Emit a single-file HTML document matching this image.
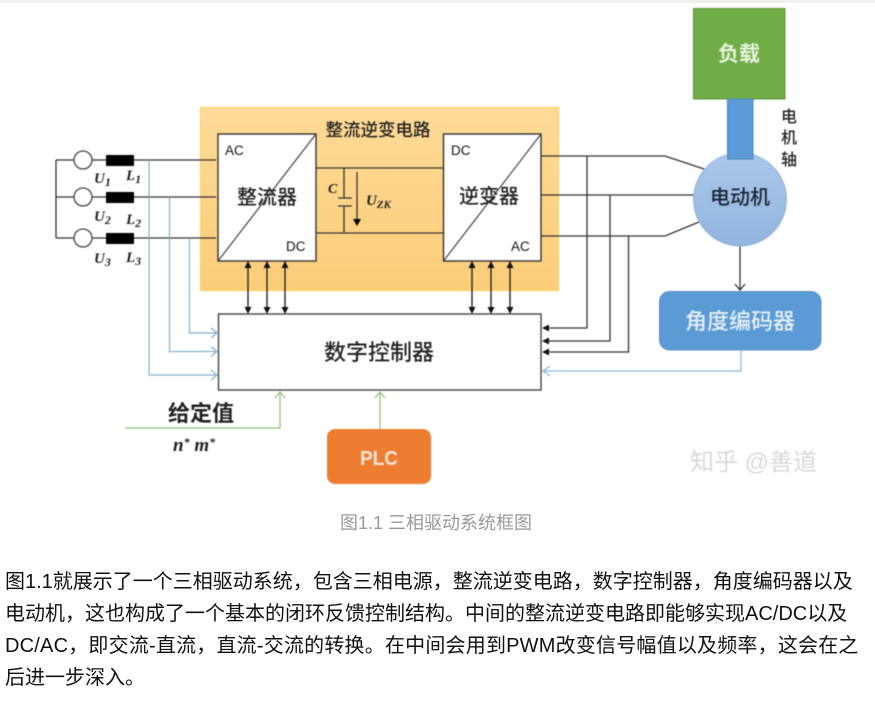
<!DOCTYPE html>
<html><head><meta charset="utf-8">
<style>
html,body{margin:0;padding:0;background:#fff;width:875px;height:721px;overflow:hidden}
body{position:relative;font-family:"Liberation Sans","Noto Sans CJK SC",sans-serif}
.bar{position:absolute;left:0;top:0;width:875px;height:3px;background:#f0f0f0}
svg{position:absolute;left:0;top:0}
.l{position:absolute;left:5px;font-size:20px;line-height:32px;color:#111;white-space:nowrap}
.cap{position:absolute;left:340px;top:511px;font-size:18px;line-height:24px;color:#999;white-space:nowrap}
</style></head><body>
<div class="bar"></div>
<svg width="875" height="510" viewBox="0 0 875 510" font-family="'Liberation Sans','Noto Sans CJK SC',sans-serif">
<defs>
<linearGradient id="o" x1="0" y1="0" x2="0" y2="1"><stop offset="0" stop-color="#ffdb98"/><stop offset="1" stop-color="#fbcd78"/></linearGradient>
<linearGradient id="m" x1="0" y1="0" x2="0" y2="1"><stop offset="0" stop-color="#aac7e8"/><stop offset="1" stop-color="#92b5e0"/></linearGradient>
</defs>
<g style="filter:blur(0.4px)">
<rect x="200.5" y="107.5" width="358" height="183" fill="url(#o)" stroke="#f7d56a" stroke-width="1.2"/>
<g fill="none" stroke="#333" stroke-width="1.3">
<path d="M56 160H216M56 197H216M56 238H216M56 160V238"/>
<path d="M316 168H443M316 233H443"/>
<path d="M344 168V198M338 198H352M338 206H352M344 206V233"/>
<path d="M357 172V220"/>
</g>
<g fill="#fff" stroke="#444" stroke-width="1.3">
<circle cx="83" cy="160" r="9"/><circle cx="83" cy="197" r="9"/><circle cx="83" cy="238" r="9"/>
</g>
<g fill="#000">
<rect x="106" y="155" width="28" height="11"/><rect x="106" y="192" width="28" height="11"/><rect x="106" y="233" width="28" height="11"/>
<path d="M353 219h8l-4 7z"/>
</g>
<g fill="none" stroke="#7fb0cc" stroke-width="1.2">
<path d="M149 160V375H217M211 370l6 5-6 5"/>
<path d="M169.500 197V351.500H217M211 346.500l6 5-6 5"/>
<path d="M189.500 238V333H217M211 328l6 5-6 5"/>
</g>
<rect x="218" y="134" width="98" height="127" fill="#fff" stroke="#333" stroke-width="1.4"/>
<rect x="443.500" y="134" width="97.500" height="127" fill="#fff" stroke="#333" stroke-width="1.4"/>
<path d="M218 261L316 134M443.500 261L541 134" stroke="#444" stroke-width="1.2" fill="none"/>
<g fill="none" stroke="#222" stroke-width="1.4">
<path d="M248 266V310M267 266V310M285 266V310M472 266V310M491 266V310M510 266V310"/>
</g>
<g fill="#111">
<path d="M248 261l-3.500 7h7zM267 261l-3.500 7h7zM285 261l-3.500 7h7zM472 261l-3.500 7h7zM491 261l-3.500 7h7zM510 261l-3.500 7h7z"/>
<path d="M248 314l-3.500-7h7zM267 314l-3.500-7h7zM285 314l-3.500-7h7zM472 314l-3.500-7h7zM491 314l-3.500-7h7zM510 314l-3.500-7h7z"/>
<path d="M542 328l7-3.500v7zM542 341l7-3.500v7zM542 352l7-3.500v7z"/>
</g>
<rect x="218.500" y="314" width="322.500" height="76" fill="#fff" stroke="#444" stroke-width="1.4"/>
<g fill="none" stroke="#333" stroke-width="1.3">
<path d="M541 156H665L704 169M541 195H694M541 236H665L699 222"/>
<path d="M587 156V328H548M610 195V341H548M628.500 236V352H548"/>
<path d="M740 245V290M735 284l5 6 5-6"/>
</g>
<circle cx="740" cy="199.500" r="46.500" fill="url(#m)" stroke="#8fb4dc" stroke-width="1"/>
<rect x="693.500" y="8.500" width="91.500" height="90.500" fill="#70ad47" stroke="#5d9338" stroke-width="1"/>
<rect x="727.500" y="99" width="25.500" height="60" fill="#5b9bd5" stroke="#4a86bd" stroke-width="1"/>
<rect x="659.500" y="291.500" width="161.500" height="58.500" rx="10" fill="#5b9bd5" stroke="#5a92c4" stroke-width="1"/>
<path d="M741 350V371H544M550 366l-7 5 7 5" fill="none" stroke="#88b7d8" stroke-width="1.2"/>
<path d="M125 428H280V392M275 398l5-6 5 6M380 429V392M375 398l5-6 5 6" fill="none" stroke="#8cbf78" stroke-width="1.2"/>
<rect x="327" y="429" width="104" height="55" rx="8" fill="#ed7d31"/>
<g font-size="13.500" font-weight="400" fill="#111">
<text x="225" y="155">AC</text><text x="286" y="251">DC</text><text x="451" y="155">DC</text><text x="511" y="251">AC</text>
</g>
<g fill="#222" font-size="20" font-weight="500" text-anchor="middle">
<text x="267" y="204">整流器</text>
<text x="489" y="203">逆变器</text>
</g>
<text x="378" y="136" font-size="17.500" font-weight="500" fill="#222" text-anchor="middle">整流逆变电路</text>
<text x="379" y="360" font-size="22" font-weight="500" fill="#222" text-anchor="middle">数字控制器</text>
<text x="739" y="61" font-size="21" font-weight="700" fill="#e8f2e0" text-anchor="middle">负载</text>
<text x="740" y="204" font-size="20" font-weight="500" fill="#1a2433" text-anchor="middle">电动机</text>
<text x="740" y="329" font-size="22" font-weight="500" fill="#e6eff8" text-anchor="middle">角度编码器</text>
<text x="379" y="465" font-size="20" font-weight="700" fill="#fbe6d8" text-anchor="middle" textLength="38" lengthAdjust="spacingAndGlyphs">PLC</text>
<g font-size="16" font-weight="500" fill="#222" text-anchor="middle">
<text x="789" y="122">电</text><text x="789" y="143">机</text><text x="789" y="165">轴</text>
</g>
<text x="201" y="421" font-size="22" font-weight="700" fill="#222" text-anchor="middle">给定值</text>
<g font-family="'Liberation Serif',serif" font-style="italic" font-weight="700" fill="#222">
<text x="173" y="451" font-size="19">n<tspan font-size="12" dy="-5">*</tspan><tspan dy="5"> m</tspan><tspan font-size="12" dy="-5">*</tspan></text>
<text x="94" y="183" font-size="15">U<tspan font-size="12" dy="3">1</tspan></text>
<text x="94" y="221" font-size="15">U<tspan font-size="12" dy="3">2</tspan></text>
<text x="94" y="263" font-size="15">U<tspan font-size="12" dy="3">3</tspan></text>
<text x="126" y="180" font-size="15">L<tspan font-size="12" dy="3">1</tspan></text>
<text x="126" y="224" font-size="15">L<tspan font-size="12" dy="3">2</tspan></text>
<text x="126" y="262" font-size="15">L<tspan font-size="12" dy="3">3</tspan></text>
<text x="328" y="193" font-size="14">C</text>
<text x="366" y="205" font-size="15">U<tspan font-size="11" dy="3">ZK</tspan></text>
</g>
<text x="690" y="470" font-size="24" fill="#d8d8d8">知乎 @善道</text>
</g>
</svg>
<div class="cap">图1.1 三相驱动系统框图</div>
<div class="l" style="top:566px">图1.1就展示了一个三相驱动系统，包含三相电源，整流逆变电路，数字控制器，角度编码器以及</div>
<div class="l" style="top:598px">电动机，这也构成了一个基本的闭环反馈控制结构。中间的整流逆变电路即能够实现AC/DC以及</div>
<div class="l" style="top:630px;letter-spacing:.2px">DC/AC，即交流-直流，直流-交流的转换。在中间会用到PWM改变信号幅值以及频率，这会在之</div>
<div class="l" style="top:662px">后进一步深入。</div>
</body></html>
